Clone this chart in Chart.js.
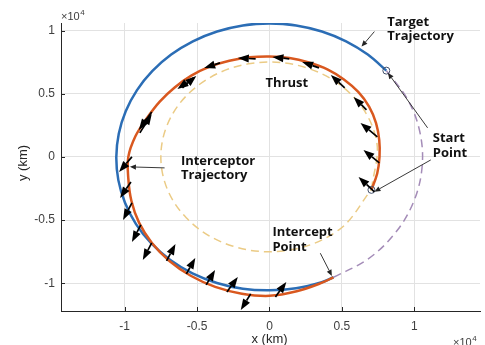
<!DOCTYPE html>
<html>
<head>
<meta charset="utf-8">
<script src="https://cdn.jsdelivr.net/npm/chart.js@4.4.1/dist/chart.umd.min.js"></script>
<style>
  html, body { margin: 0; padding: 0; background: #fff; }
  canvas { display: block; }
</style>
</head>
<body>
<canvas id="orbitChart" width="485" height="345"></canvas>
<script>
// all positions in km
const targetPath = [
  [8070, 6830], [6790, 8100], [5290, 9150], [3620, 9930], [1840, 10410],
  [0, 10570], [-1840, 10410], [-3620, 9930], [-5290, 9150], [-6790, 8100],
  [-8100, 6790], [-9150, 5290], [-9930, 3620], [-10410, 1840], [-10580, 0],
  [-10440, -1840], [-9980, -3630], [-9220, -5320], [-8160, -6850], [-6850, -8160],
  [-5320, -9220], [-3630, -9980], [-1840, -10440], [0, -10560], [1830, -10400],
  [3610, -9920], [4420, -9530]
];
const interceptorPath = [
  [7040, -2610], [7440, -1310], [7600, 0], [7580, 1340], [7360, 2680],
  [6880, 3980], [6130, 5140], [5140, 6130], [4000, 6930], [2720, 7470],
  [1380, 7830], [0, 7950], [-1390, 7880], [-2770, 7610], [-4130, 7140],
  [-5400, 6430], [-6550, 5500], [-7580, 4380], [-8460, 3080], [-9260, 1630],
  [-9750, 0], [-9750, -1720], [-9540, -3470], [-9010, -5200], [-8120, -6810],
  [-6910, -8240], [-5440, -9410], [-3750, -10290], [-1910, -10830], [0, -11000],
  [1880, -10640], [3630, -9960], [4420, -9530]
];
const parkingOrbit = [
  [7050, -2570], [7390, 1300], [5750, 4820], [2570, 7050], [-1300, 7390],
  [-4820, 5750], [-7050, 2570], [-7390, -1300], [-5750, -4820], [-2570, -7050],
  [1300, -7390], [4820, -5750], [7050, -2570]
];
const targetRemainder = [
  [4420, -9530], [6790, -8100], [8660, -6060], [9930, -3620], [10530, -920],
  [10410, 1840], [9580, 4470], [8070, 6830]
];
const startPoints = [[8070, 6830], [7040, -2610]];

// thrust vectors along the interceptor path: tail -> tip
const thrustFrom = [
  [1367, 7760], [-957, 7760], [3418, 7047], [-3418, 7443], [5195, 5463],
  [-5263, 6255], [-6015, 5463], [6698, 3721], [7450, 1584], [7587, -475],
  [7245, -2771], [-8134, 3563], [-8954, 1900], [-9501, 0], [-9569, -1980],
  [-9501, -3642], [-8886, -5384], [-8134, -6809], [-7108, -8235], [-5741, -9264],
  [-4374, -10135], [-2939, -10689], [-1299, -10848], [410, -11085]
];
const thrustTo = [
  [205, 7918], [-2187, 7839], [2256, 7522], [-4511, 7047], [4238, 6493],
  [-6357, 5384], [-5058, 6414], [5810, 4751], [6288, 2692], [6493, 554],
  [6152, -1584], [-9022, 2138], [-8134, 3405], [-10389, -1188], [-10321, -3246],
  [-10116, -4988], [-9501, -6730], [-8749, -8156], [-6493, -6889], [-5126, -7997],
  [-3759, -8947], [-2187, -9502], [-1982, -12115], [1162, -9898]
];

const axisTicks = [-10000, -5000, 0, 5000, 10000];
const tickLabels = ['-1', '-0.5', '0', '0.5', '1'];

const labels = [
  { text: 'Target', x: 8130, y: 10630 },
  { text: 'Trajectory', x: 8130, y: 9580 },
  { text: 'Thrust', x: -270, y: 5860 },
  { text: 'Start', x: 11280, y: 1500 },
  { text: 'Point', x: 11280, y: 320 },
  { text: 'Interceptor', x: -6120, y: -320 },
  { text: 'Trajectory', x: -6120, y: -1430 },
  { text: 'Intercept', x: 200, y: -5990 },
  { text: 'Point', x: 200, y: -7150 }
];
const pointers = [
  { from: [7245, 9920], to: [6360, 8730] },
  { from: [10920, 2300], to: [8180, 6650] },
  { from: [11140, -240], to: [7250, -2750] },
  { from: [-7245, -870], to: [-9640, -790] },
  { from: [3510, -7625], to: [4310, -9420] }
];

const xy = pts => pts.map(([x, y]) => ({ x, y }));
const curve = (pts, color, width, dash, order) => ({
  data: xy(pts), showLine: true, borderColor: color, borderWidth: width,
  borderDash: dash, pointRadius: 0, tension: 0.36, fill: false, order
});

function arrow(ctx, x0, y0, x1, y1, headLen, headHalf, width, color) {
  const a = Math.atan2(y1 - y0, x1 - x0);
  const bx = x1 - headLen * Math.cos(a), by = y1 - headLen * Math.sin(a);
  ctx.strokeStyle = color;
  ctx.fillStyle = color;
  ctx.lineWidth = width;
  ctx.beginPath();
  ctx.moveTo(x0, y0);
  ctx.lineTo(bx, by);
  ctx.stroke();
  ctx.beginPath();
  ctx.moveTo(x1, y1);
  ctx.lineTo(bx + headHalf * Math.sin(a), by - headHalf * Math.cos(a));
  ctx.lineTo(bx - headHalf * Math.sin(a), by + headHalf * Math.cos(a));
  ctx.closePath();
  ctx.fill();
}

function times10(ctx, x, y) {
  ctx.fillStyle = '#404040';
  ctx.textAlign = 'left';
  ctx.textBaseline = 'alphabetic';
  ctx.font = '11px "Liberation Sans", Arial, sans-serif';
  ctx.fillText('\u00d710', x, y);
  const w = ctx.measureText('\u00d710').width;
  ctx.font = '8px "Liberation Sans", Arial, sans-serif';
  ctx.fillText('4', x + w + 0.5, y - 5);
}

const overlay = {
  id: 'overlay',
  afterDatasetsDraw(chart) {
    const { ctx, chartArea: area, scales: { x, y } } = chart;
    const px = v => x.getPixelForValue(v);
    const py = v => y.getPixelForValue(v);
    ctx.save();

    // inward tick marks
    ctx.strokeStyle = '#262626';
    ctx.lineWidth = 1;
    ctx.beginPath();
    axisTicks.forEach(v => {
      const tx = Math.round(px(v)) + 0.5, ty = Math.round(py(v)) + 0.5;
      ctx.moveTo(tx, area.bottom); ctx.lineTo(tx, area.bottom - 4);
      ctx.moveTo(area.left, ty); ctx.lineTo(area.left + 4, ty);
    });
    ctx.stroke();

    // thrust arrows
    thrustFrom.forEach((t, i) => {
      const h = thrustTo[i];
      arrow(ctx, px(t[0]), py(t[1]), px(h[0]), py(h[1]), 11, 4, 1.7, '#000');
    });

    // callouts
    pointers.forEach(p => {
      arrow(ctx, px(p.from[0]), py(p.from[1]), px(p.to[0]), py(p.to[1]), 6, 2.6, 0.9, '#222');
    });
    ctx.fillStyle = '#111';
    ctx.font = 'bold 13px "Open Sans", "Noto Sans", sans-serif';
    ctx.textAlign = 'left';
    ctx.textBaseline = 'middle';
    labels.forEach(l => ctx.fillText(l.text, px(l.x), py(l.y)));

    // axis titles and exponent markers
    ctx.fillStyle = '#262626';
    ctx.font = '13px "Liberation Sans", Arial, sans-serif';
    ctx.textAlign = 'center';
    ctx.fillText('x (km)', (area.left + area.right) / 2 - 1, 339);
    ctx.translate(23, (area.top + area.bottom) / 2 - 4);
    ctx.rotate(-Math.PI / 2);
    ctx.fillText('y (km)', 0, 0);
    ctx.setTransform(1, 0, 0, 1, 0, 0);
    times10(ctx, 61, 20);
    times10(ctx, 453, 346);
    ctx.restore();
  }
};

const tickFont = { family: '"Liberation Sans", Arial, sans-serif', size: 12 };
const fmt = v => { const i = axisTicks.indexOf(v); return i < 0 ? '' : tickLabels[i]; };
const setTicks = s => { s.ticks = axisTicks.map(value => ({ value })); };

new Chart(document.getElementById('orbitChart'), {
  type: 'scatter',
  data: {
    datasets: [
      {
        data: xy(startPoints), showLine: false, pointRadius: 3.5, pointBorderWidth: 1,
        pointBorderColor: '#44506a', pointBackgroundColor: 'rgba(0,0,0,0)', order: 0
      },
      curve(interceptorPath, '#d9581f', 2.5, [], 1),
      curve(targetPath, '#2b6db5', 2.5, [], 2),
      curve(targetRemainder, '#a48cb8', 1.5, [8, 5], 3),
      curve(parkingOrbit, '#ebcb85', 1.5, [8, 5], 4)
    ]
  },
  options: {
    responsive: false,
    animation: false,
    layout: { padding: { top: 23, right: 0, left: 0, bottom: 0 } },
    plugins: { legend: { display: false }, tooltip: { enabled: false } },
    scales: {
      x: {
        type: 'linear', min: -14400, max: 14540,
        afterBuildTicks: setTicks,
        afterFit: s => { s.height = 34; },
        grid: { color: '#e2e2e2', tickLength: 0 },
        border: { color: '#262626', width: 1 },
        ticks: { callback: fmt, font: tickFont, color: '#404040', padding: 8, maxRotation: 0 }
      },
      y: {
        type: 'linear', min: -12200, max: 10600,
        afterBuildTicks: setTicks,
        afterFit: s => { s.width = 61; },
        grid: { color: '#e2e2e2', tickLength: 0 },
        border: { color: '#262626', width: 1 },
        ticks: { callback: fmt, font: tickFont, color: '#404040', padding: 6 }
      }
    }
  },
  plugins: [overlay]
});
</script>
</body>
</html>
